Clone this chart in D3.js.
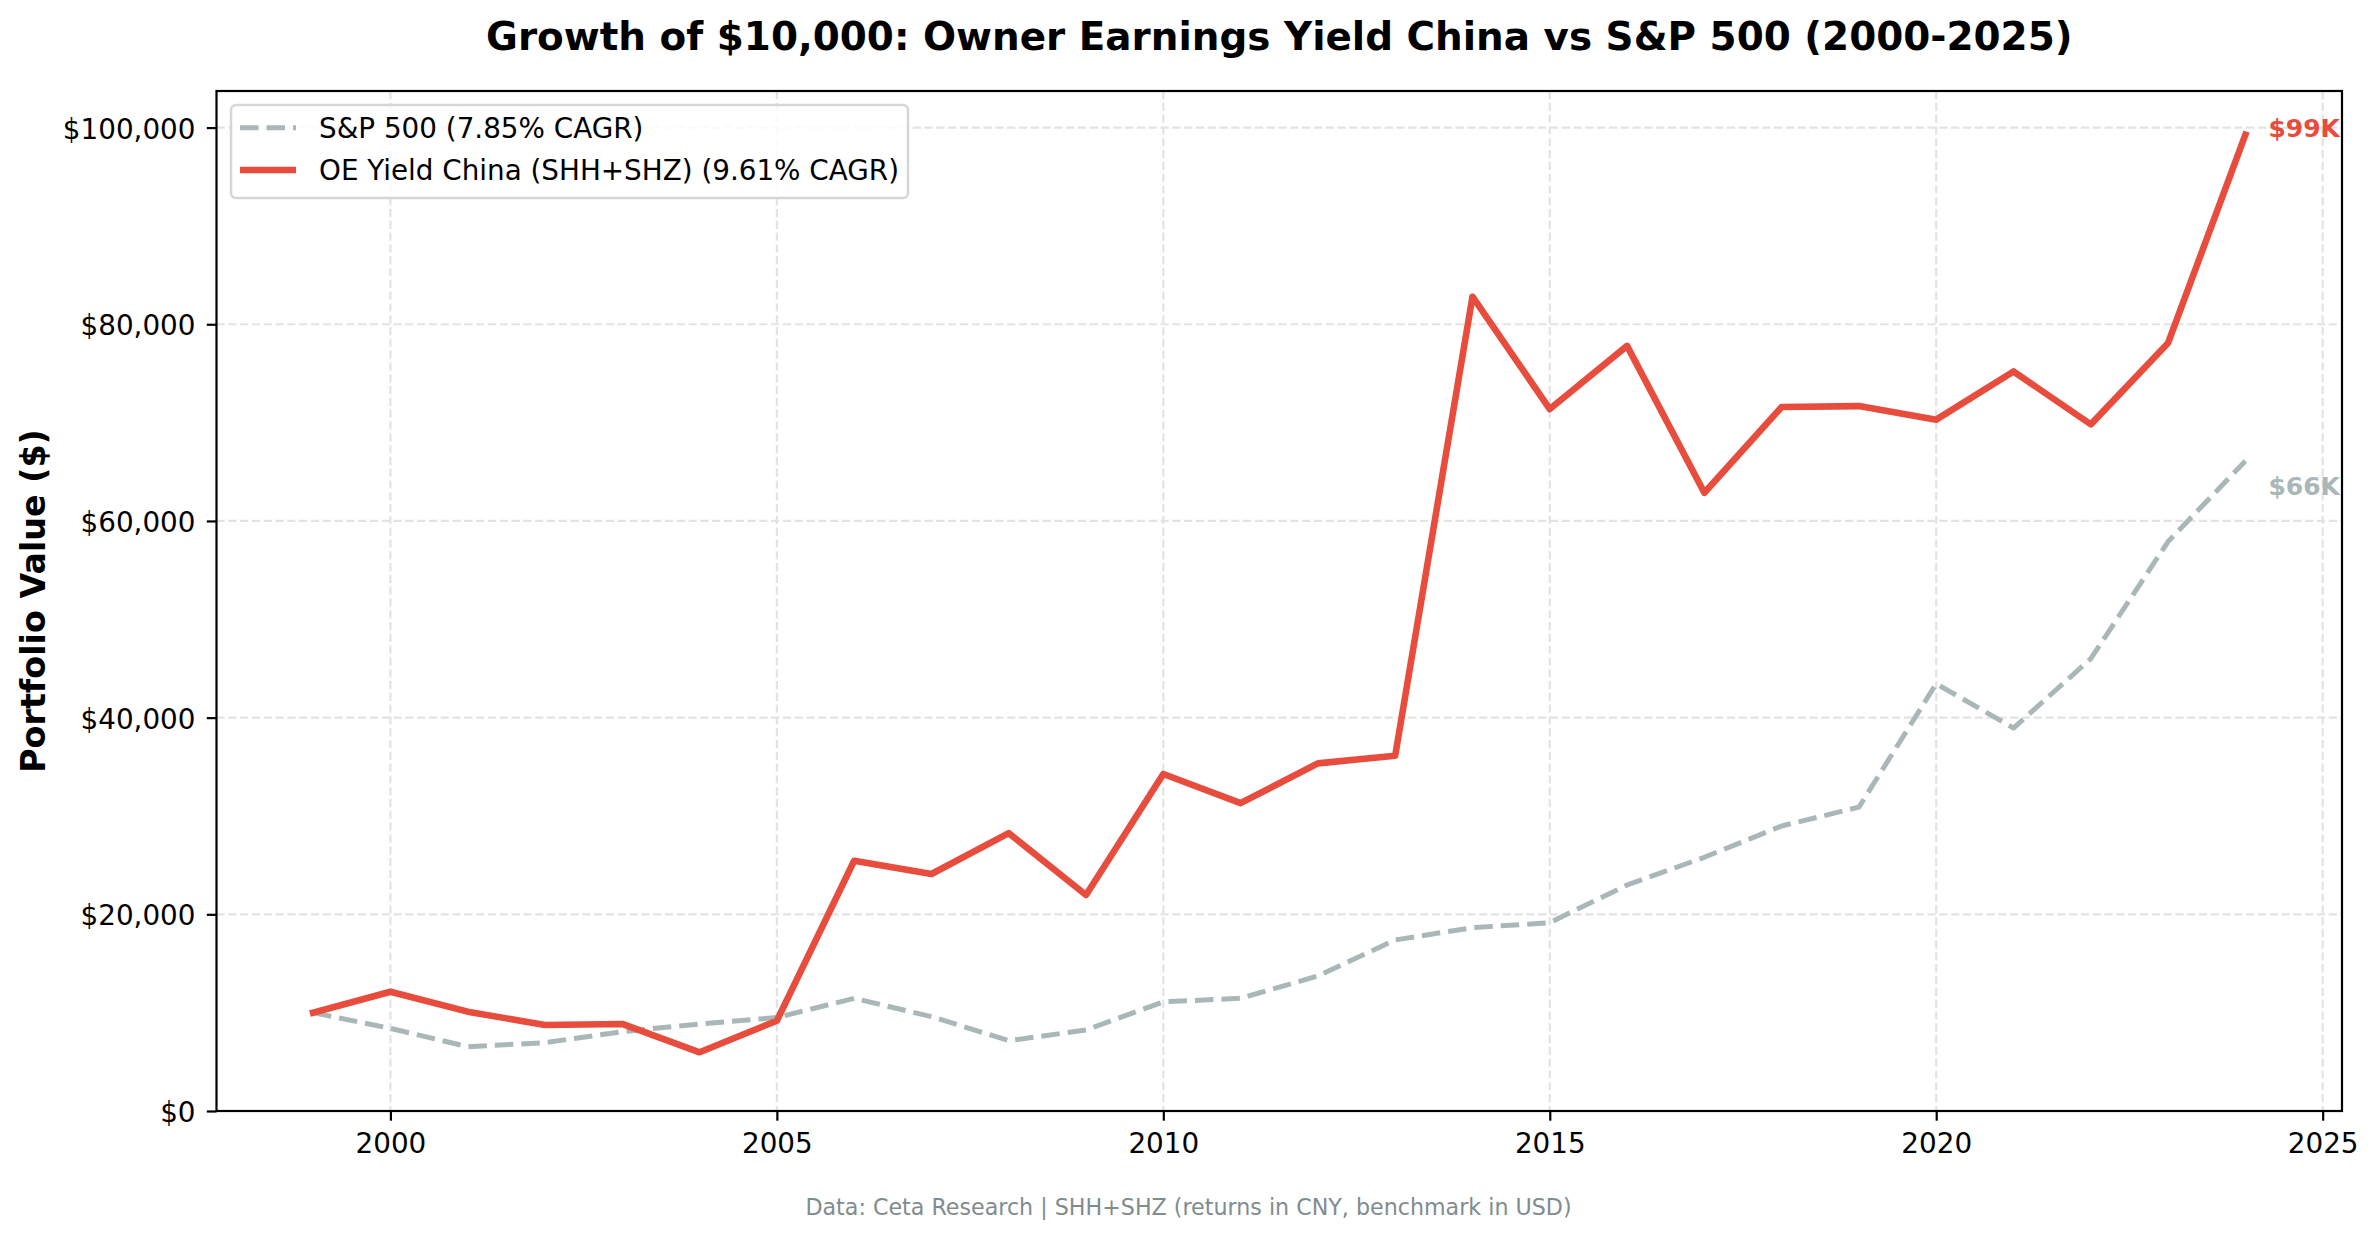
<!DOCTYPE html>
<html>
<head>
<meta charset="utf-8">
<script src="https://cdn.jsdelivr.net/npm/d3@7"></script>
<style>
  html, body { margin: 0; padding: 0; background: #ffffff; }
  svg { display: block; font-family: "DejaVu Sans", sans-serif; }
</style>
</head>
<body>
<svg id="chart" width="2377" height="1239"></svg>
<script>
// ---- data ----
const years = [1999, 2000, 2001, 2002, 2003, 2004, 2005, 2006, 2007, 2008, 2009, 2010, 2011, 2012,
               2013, 2014, 2015, 2016, 2017, 2018, 2019, 2020, 2021, 2022, 2023, 2024];
const oeChina = [10000, 12130, 10100, 8740, 8850, 5970, 9180, 25450, 24100, 28250, 21960, 34270,
                 31300, 35350, 36130, 82800, 71380, 77800, 62870, 71580, 71680, 70300, 75200, 69820,
                 78100, 99280];
const sp500 = [10000, 8400, 6540, 6950, 8070, 8850, 9500, 11460, 9600, 7150, 8240, 11100, 11460,
               13730, 17390, 18640, 19150, 22980, 25800, 28980, 30900, 43450, 38940, 46000, 57900,
               66100];
const seriesNames = ["S&P 500 (7.85% CAGR)", "OE Yield China (SHH+SHZ) (9.61% CAGR)"];
const endLabels = ["$99K", "$66K"];
const xTicks = [2000, 2005, 2010, 2015, 2020, 2025];
const yTicks = [0, 20000, 40000, 60000, 80000, 100000];
const titleText = "Growth of $10,000: Owner Earnings Yield China vs S&P 500 (2000-2025)";
const yLabelText = "Portfolio Value ($)";
const footerText = "Data: Ceta Research | SHH+SHZ (returns in CNY, benchmark in USD)";

// ---- layout ----
const W = 2377, H = 1239;
const L = 216.5, R = 2342, T = 91, B = 1111;
const RED = "#e74c3c", GRAY = "#aab7b8";

const svg = d3.select("#chart");
const x = d3.scaleLinear().domain([1997.75, 2025.25]).range([L, R]);
const y = d3.scaleLinear().domain([0, 103720]).range([B, T]);

svg.append("rect").attr("width", W).attr("height", H).attr("fill", "#fff");

// grid
const grid = svg.append("g");
grid.selectAll(".gx").data(xTicks).join("line")
  .attr("x1", d => x(d)).attr("x2", d => x(d)).attr("y1", T).attr("y2", B)
  .attr("stroke", "#e3e3e3").attr("stroke-width", 2.2).attr("stroke-dasharray", "8.2,3.6");
grid.selectAll(".gy").data(yTicks).join("line")
  .attr("x1", L).attr("x2", R).attr("y1", d => y(d)).attr("y2", d => y(d))
  .attr("stroke", "#e3e3e3").attr("stroke-width", 2.2).attr("stroke-dasharray", "8.2,3.6");

// lines
const line = (vals) => d3.line().x((d, i) => x(years[i])).y(d => y(d))(vals);
svg.append("path").attr("d", line(sp500)).attr("fill", "none")
  .attr("stroke", GRAY).attr("stroke-width", 5).attr("stroke-dasharray", "18.5,8")
  .attr("stroke-linejoin", "round");
svg.append("path").attr("d", line(oeChina)).attr("fill", "none")
  .attr("stroke", RED).attr("stroke-width", 6.6).attr("stroke-linejoin", "round")
  .attr("stroke-linecap", "square");

// end labels
const lastI = years.length - 1;
svg.append("text").attr("x", x(years[lastI]) + 23).attr("y", y(oeChina[lastI]) + 2)
  .attr("font-size", 25).attr("font-weight", "bold").attr("fill", RED).text(endLabels[0]);
svg.append("text").attr("x", x(years[lastI]) + 23).attr("y", y(sp500[lastI]) + 34)
  .attr("font-size", 25).attr("font-weight", "bold").attr("fill", GRAY).text(endLabels[1]);

// axes
const xAxis = d3.axisBottom(x).tickValues(xTicks).tickFormat(d3.format("d"))
  .tickSize(9.7).tickPadding(9.7);
const gx = svg.append("g").attr("transform", `translate(0,${B})`).call(xAxis);
gx.select(".domain").remove();
gx.selectAll(".tick line").attr("stroke", "#000").attr("stroke-width", 2.2);
gx.selectAll(".tick text").attr("font-size", 27.8).attr("fill", "#000")
  .attr("font-family", "DejaVu Sans").attr("dy", null).attr("y", 42.3);

const yAxis = d3.axisLeft(y).tickValues(yTicks).tickFormat(d => "$" + d3.format(",")(d))
  .tickSize(9.7).tickPadding(9.7);
const gy = svg.append("g").attr("transform", `translate(${L},0)`).call(yAxis);
gy.select(".domain").remove();
gy.selectAll(".tick line").attr("stroke", "#000").attr("stroke-width", 2.2);
gy.selectAll(".tick text").attr("font-size", 27.8).attr("fill", "#000")
  .attr("font-family", "DejaVu Sans").attr("dy", null).attr("y", 10.5).attr("x", -21);

// spines
svg.append("rect").attr("x", L).attr("y", T).attr("width", R - L).attr("height", B - T)
  .attr("fill", "none").attr("stroke", "#000").attr("stroke-width", 2.2);

// legend
const lg = svg.append("g");
lg.append("rect").attr("x", 231).attr("y", 105).attr("width", 677).attr("height", 93)
  .attr("rx", 5).attr("fill", "#fff").attr("fill-opacity", 0.8)
  .attr("stroke", "#d6d6d6").attr("stroke-width", 2.5);
const legendRows = [
  { name: seriesNames[0], color: GRAY, dash: "18.5,8", w: 5 },
  { name: seriesNames[1], color: RED, dash: null, w: 6.6 }
];
legendRows.forEach((r, i) => {
  const cy = 127.7 + i * 42.3;
  lg.append("line").attr("x1", 240).attr("x2", 296).attr("y1", cy).attr("y2", cy)
    .attr("stroke", r.color).attr("stroke-width", r.w).attr("stroke-dasharray", r.dash);
  lg.append("text").attr("x", 319).attr("y", cy + 10).attr("font-size", 27.8)
    .attr("fill", "#000").text(r.name);
});

// title
svg.append("text").attr("x", (L + R) / 2).attr("y", 50).attr("text-anchor", "middle")
  .attr("font-size", 38.9).attr("font-weight", "bold").attr("fill", "#000").text(titleText);

// y label
svg.append("text").attr("transform", `translate(44.5,${(T + B) / 2}) rotate(-90)`)
  .attr("text-anchor", "middle").attr("font-size", 33.3).attr("font-weight", "bold")
  .attr("fill", "#000").text(yLabelText);

// footer
svg.append("text").attr("x", W / 2).attr("y", 1215).attr("text-anchor", "middle")
  .attr("font-size", 22.2).attr("fill", "#7f8c8d").text(footerText);
</script>
</body>
</html>
